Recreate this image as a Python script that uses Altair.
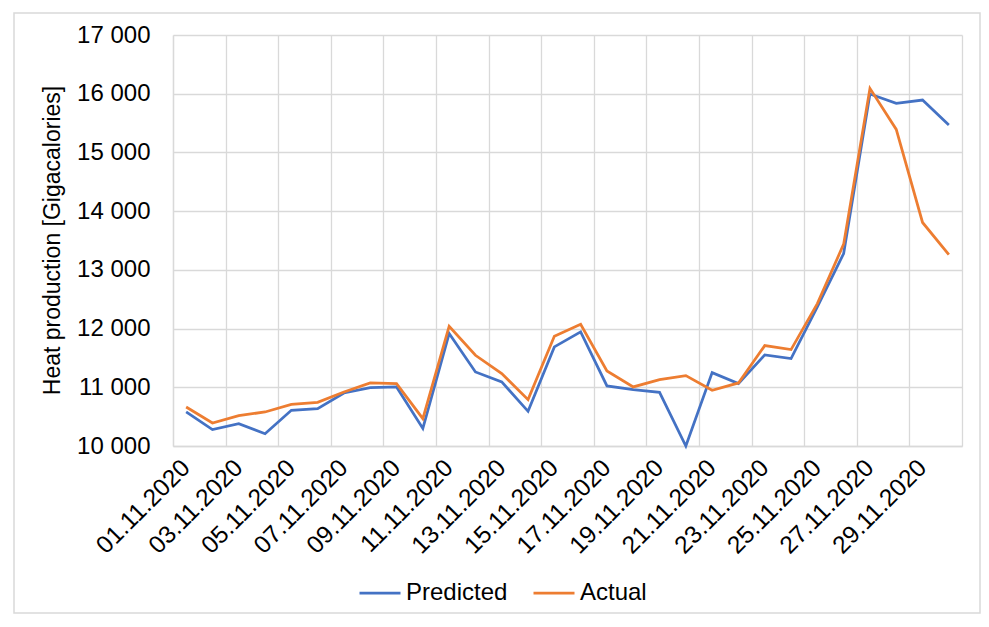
import altair as alt
import pandas as pd

dates = ["%02d.11.2020" % d for d in range(1, 31)]
predicted = [10580, 10280, 10380, 10210, 10608, 10636, 10903, 10994, 11006, 10300,
             11915, 11261, 11091, 10591, 11688, 11943, 11023, 10960, 10915, 10000,
             11250, 11063, 11551, 11489, 12369, 13278, 15994, 15835, 15892, 15466]
actual = [10665, 10392, 10517, 10580, 10710, 10744, 10920, 11074, 11063, 10466,
          12040, 11545, 11233, 10790, 11869, 12074, 11278, 11006, 11131, 11199,
          10949, 11074, 11710, 11642, 12426, 13438, 16091, 15392, 13807, 13261]
series_names = ["Predicted", "Actual"]
series_colors = ["#4472C4", "#ED7D31"]
y_ticks = [10000, 11000, 12000, 13000, 14000, 15000, 16000, 17000]

days = list(range(1, len(dates) + 1))
rows = []
for i, d in enumerate(days):
    rows.append({"day": d, "date": dates[i], "series": "Predicted", "value": predicted[i]})
    rows.append({"day": d, "date": dates[i], "series": "Actual", "value": actual[i]})
df = pd.DataFrame(rows)

FONT = "Liberation Sans"
GRID = "#d9d9d9"

# gridline boundaries every two categories, labels on odd days
bounds = [d - 0.5 for d in days[::2]] + [days[-1] + 0.5]
dates_js = "[" + ",".join("'%s'" % s for s in dates) + "]"

lines = alt.Chart(df).mark_line(strokeWidth=2.75).encode(
    x=alt.X("day:Q",
            scale=alt.Scale(domain=[days[0] - 0.5, days[-1] + 0.5], nice=False, zero=False),
            axis=alt.Axis(values=bounds, grid=True, gridColor=GRID, gridWidth=1.3,
                          ticks=False, domain=True, domainColor=GRID, domainWidth=1.3,
                          labelAngle=-45, labelAlign="right", labelBaseline="middle",
                          labelOffset=13, labelPadding=18, labelFont=FONT, labelFontSize=24.5,
                          labelColor="#000000", labelOverlap=False, labelBound=False,
                          labelExpr="datum.value < %d ? %s[floor(datum.value)] : ''" % (days[-1], dates_js),
                          title=None)),
    y=alt.Y("value:Q",
            scale=alt.Scale(domain=[y_ticks[0], y_ticks[-1]], nice=False, zero=False),
            axis=alt.Axis(values=y_ticks, grid=True, gridColor=GRID, gridWidth=1.3,
                          ticks=False, domain=True, domainColor=GRID, domainWidth=1.3,
                          labelPadding=23, labelFont=FONT, labelFontSize=24, labelColor="#000000",
                          labelExpr="replace(format(datum.value, ','), ',', ' ')",
                          title="Heat production [Gigacalories]", titleFont=FONT,
                          titleFontSize=23, titleFontWeight="normal", titleColor="#000000",
                          titleX=-121, titleY=205, titleAngle=-90, titleAlign="center",
                          titleBaseline="middle")),
    color=alt.Color("series:N",
                    scale=alt.Scale(domain=series_names, range=series_colors),
                    legend=alt.Legend(orient="none", legendX=185, legendY=536,
                                      direction="horizontal", title=None,
                                      symbolType="stroke", symbolSize=1681,
                                      symbolStrokeWidth=2.75, labelFont=FONT,
                                      labelFontSize=24, labelColor="#000000",
                                      labelOffset=4, columnPadding=20, padding=0)),
    order="day:Q",
)

frame = alt.Chart(pd.DataFrame({"k": [0]})).mark_rect(
    fill=None, stroke=GRID, strokeWidth=1.5
).encode(
    x=alt.value(-159), x2=alt.value(807), y=alt.value(-22), y2=alt.value(578)
)

chart = alt.layer(frame, lines).properties(
    width=789, height=411,
    autosize=alt.AutoSizeParams(type="none"),
    padding={"left": 165, "top": 27, "right": 19, "bottom": 168},
).configure_view(stroke=None)

chart.save("out.html", embed_options={"renderer": "svg", "actions": False})
